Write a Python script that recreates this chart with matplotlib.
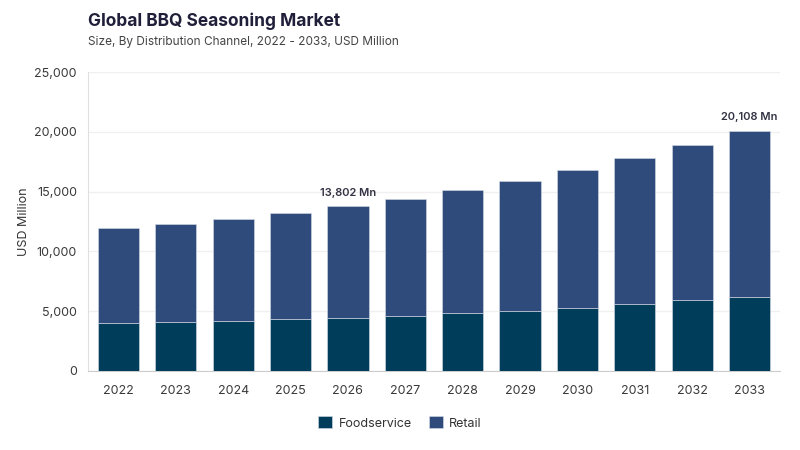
import matplotlib
matplotlib.use('Agg')
from matplotlib import pyplot as plt
from matplotlib.ticker import FuncFormatter

years = ['2022', '2023', '2024', '2025', '2026', '2027', '2028', '2029', '2030', '2031', '2032', '2033']
totals = [11960, 12320, 12740, 13240, 13802, 14410, 15110, 15910, 16780, 17780, 18870, 20108]
foodservice = [4010, 4120, 4180, 4350, 4460, 4600, 4880, 5040, 5270, 5570, 5910, 6210]
retail = [t - f for t, f in zip(totals, foodservice)]
labelled = {4: '13,802 Mn', 11: '20,108 Mn'}

plt.rcParams['font.family'] = ['Inter', 'DejaVu Sans']

fig = plt.figure(figsize=(8, 4.5), dpi=100)
ax = fig.add_axes([0.11, 0.1756, 0.865, 0.664])

x = list(range(len(years)))
ax.bar(x, foodservice, width=0.72, color='#003d5b', edgecolor='#d8dde6', linewidth=0.4, label='Foodservice', zorder=3)
ax.bar(x, retail, bottom=foodservice, width=0.72, color='#2f4b7c', edgecolor='#d8dde6', linewidth=0.4, label='Retail', zorder=3)

for i, txt in labelled.items():
    ax.text(i, totals[i] + 700, txt, ha='center', va='bottom', fontsize=8, fontweight='semibold', color='#333344')

ax.set_ylim(0, 25000)
ax.set_xlim(-0.53, 11.53)
ax.set_yticks([0, 5000, 10000, 15000, 20000, 25000])
ax.yaxis.set_major_formatter(FuncFormatter(lambda v, p: '{:,.0f}'.format(v)))
ax.set_xticks(x)
ax.set_xticklabels(years)
ax.tick_params(axis='both', length=0, labelsize=9, colors='#3a3a3a')
ax.tick_params(axis='x', pad=10)
ax.tick_params(axis='y', pad=8)
ax.grid(axis='y', color='#f0f0f0', linewidth=1, zorder=0)
for s in ['top', 'right']:
    ax.spines[s].set_visible(False)
ax.spines['left'].set_color('#e0e0e0')
ax.spines['bottom'].set_color('#cccccc')
ax.set_ylabel('USD Million', fontsize=9, color='#333333', labelpad=3)

fig.text(0.11, 0.952, 'Global BBQ Seasoning Market', fontsize=12.5, fontweight='bold', color='#1f1f3a', va='center')
fig.text(0.11, 0.907, 'Size, By Distribution Channel, 2022 - 2033, USD Million', fontsize=8.5, color='#444444', va='center')

leg = fig.legend(loc='center', bbox_to_anchor=(0.5, 0.06), ncol=2, frameon=False, fontsize=9,
                 handlelength=1.1, handleheight=1.1, columnspacing=1.4, handletextpad=0.5)
for t in leg.get_texts():
    t.set_color('#333333')

fig.savefig('out.png', dpi=100)
